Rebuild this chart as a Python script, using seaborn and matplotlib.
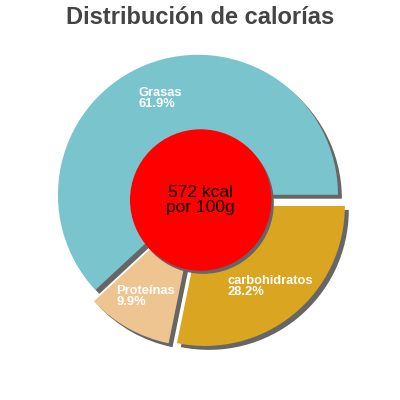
import numpy as np
import matplotlib
matplotlib.use("Agg")
import matplotlib.pyplot as plt
import seaborn as sns

# Data
categories = ["Grasas", "Proteínas", "carbohidratos"]
values = [61.9, 9.9, 28.2]
slice_colors = ["#7AC5CD", "#EEC591", "#DAA520"]
center_lines = ["572 kcal", "por 100g"]
title = "Distribución de calorías"

sns.set_style("white")
plt.rcParams["font.family"] = ["Liberation Sans", "DejaVu Sans"]
palette = sns.color_palette(slice_colors)

fig = plt.figure(figsize=(4, 4), dpi=100)
ax = fig.add_axes([0, 0, 1, 1])
lim = 200 / 140

explode = [0.04, 0.05, 0.055]
sh = 0.028

# shadow pie
ax.pie(values, colors=["#666666"] * len(values), explode=explode, startangle=0,
       counterclock=True, center=(sh, -sh), radius=1.0,
       wedgeprops=dict(linewidth=0), frame=True)
wedges, _ = ax.pie(values, colors=palette, explode=explode, startangle=0,
                   counterclock=True, center=(0, 0), radius=1.0,
                   wedgeprops=dict(linewidth=0), frame=True)
ax.set_xlim(-lim, lim)
ax.set_ylim(-lim, lim)
ax.set_aspect("equal")
ax.axis("off")

total = sum(values)
for w, cat, v in zip(wedges, categories, values):
    mid = np.deg2rad((w.theta1 + w.theta2) / 2)
    cx, cy = w.center
    r = 0.74
    ax.text(cx + r * np.cos(mid), cy + r * np.sin(mid),
            f"{cat}\n{v / total * 100:.1f}%",
            ha="center", va="center", multialignment="left",
            color="white", fontsize=9.3, fontweight="bold",
            linespacing=0.9, zorder=5)

# center circle with shadow
ax.add_patch(plt.Circle((sh * 0.8, -sh * 0.8), 0.505, color="#666666", zorder=3, lw=0))
ax.add_patch(plt.Circle((0.005, 0), 0.505, color="#FF0000", zorder=4, lw=0))
ax.text(0.005, 0, "\n".join(center_lines), ha="center", va="center",
        fontsize=12.5, color="black", linespacing=1.0, zorder=6)

fig.text(0.5, 0.955, title, ha="center", va="center", fontsize=17,
         fontweight="bold", color="#444444")

fig.savefig("out.png", dpi=100)
